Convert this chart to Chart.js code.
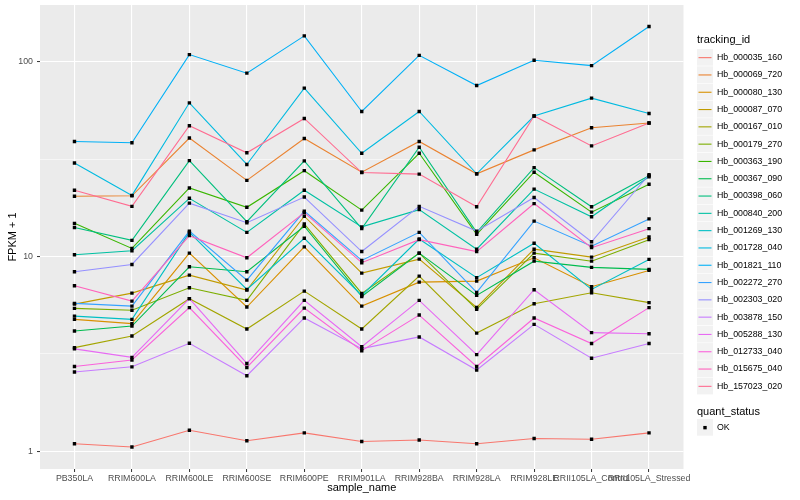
<!DOCTYPE html>
<html>
<head>
<meta charset="utf-8">
<script src="https://cdn.jsdelivr.net/npm/chart.js@4.4.0/dist/chart.umd.min.js"></script>
<style>
  html, body { margin: 0; padding: 0; background: #fff; }
</style>
</head>
<body>
<canvas id="myChart" width="800" height="500"></canvas>
<script>
// categories on the x axis
const sampleNames = ['PB350LA', 'RRIM600LA', 'RRIM600LE', 'RRIM600SE', 'RRIM600PE', 'RRIM901LA',
  'RRIM928BA', 'RRIM928LA', 'RRIM928LE', 'RRII105LA_Control', 'RRII105LA_Stressed'];

// y tick labels (log scale)
const yTickLabels = [1, 10, 100];
const yMinorBreaks = [3.1623, 31.623];

// FPKM + 1 per tracking id
const hb_000035_160 = [1.09, 1.05, 1.28, 1.13, 1.24, 1.12, 1.14, 1.09, 1.16, 1.15, 1.24];
const hb_000069_720 = [20.4, 20.5, 40.6, 24.6, 40.4, 27.1, 39.0, 26.6, 35.3, 45.9, 48.5];
const hb_000080_130 = [4.75, 4.52, 10.4, 5.50, 11.2, 5.56, 7.38, 7.47, 9.85, 6.99, 8.48];
const hb_000087_070 = [5.69, 6.48, 8.02, 6.72, 16.1, 8.21, 9.69, 5.47, 10.9, 9.92, 12.6];
const hb_000167_010 = [3.40, 3.90, 6.07, 4.24, 6.64, 4.24, 7.93, 4.04, 5.72, 6.51, 5.79];
const hb_000179_270 = [5.41, 5.29, 6.91, 5.95, 14.7, 6.46, 10.4, 5.35, 10.4, 9.46, 12.2];
const hb_000363_190 = [14.8, 11.0, 22.5, 17.9, 27.6, 17.3, 33.9, 13.0, 27.1, 16.9, 23.5];
const hb_000367_090 = [4.14, 4.39, 8.85, 8.35, 14.3, 6.23, 10.4, 6.31, 9.46, 8.79, 8.58];
const hb_000398_060 = [14.1, 12.1, 31.1, 15.1, 31.0, 13.9, 36.4, 13.3, 28.6, 18.0, 26.0];
const hb_000840_200 = [10.2, 10.7, 19.9, 13.3, 21.9, 14.2, 17.4, 10.9, 22.2, 16.0, 25.7];
const hb_001269_130 = [4.94, 4.75, 13.3, 6.77, 12.4, 6.31, 12.3, 7.78, 11.7, 6.77, 9.66];
const hb_001728_040 = [30.2, 20.6, 61.6, 29.7, 73.3, 33.9, 55.6, 26.6, 52.7, 65.1, 54.3];
const hb_001821_110 = [39.0, 38.4, 109, 87.5, 136, 55.6, 108, 75.6, 102, 95.7, 152];
const hb_002272_270 = [5.74, 5.56, 13.5, 7.56, 17.1, 9.54, 13.3, 6.54, 15.2, 11.3, 15.6];
const hb_002303_020 = [8.35, 9.10, 18.8, 14.9, 20.2, 10.6, 18.1, 13.5, 20.1, 11.9, 26.3];
const hb_003878_150 = [2.55, 2.71, 3.58, 2.44, 4.83, 3.36, 3.86, 2.61, 4.48, 3.00, 3.57];
const hb_005288_130 = [3.35, 3.03, 6.07, 2.82, 5.95, 3.44, 5.95, 3.13, 6.75, 4.06, 4.01];
const hb_012733_040 = [2.72, 2.94, 5.46, 2.69, 5.43, 3.28, 5.00, 2.72, 4.83, 3.57, 5.46];
const hb_015675_040 = [7.07, 5.90, 12.8, 9.85, 16.8, 9.29, 12.2, 10.6, 18.7, 11.1, 13.9];
const hb_157023_020 = [21.9, 18.1, 47.0, 34.1, 51.2, 27.0, 26.5, 18.0, 52.7, 37.0, 48.5];

const trackingIds = ['Hb_000035_160', 'Hb_000069_720', 'Hb_000080_130', 'Hb_000087_070', 'Hb_000167_010',
  'Hb_000179_270', 'Hb_000363_190', 'Hb_000367_090', 'Hb_000398_060', 'Hb_000840_200', 'Hb_001269_130',
  'Hb_001728_040', 'Hb_001821_110', 'Hb_002272_270', 'Hb_002303_020', 'Hb_003878_150', 'Hb_005288_130',
  'Hb_012733_040', 'Hb_015675_040', 'Hb_157023_020'];
const seriesValues = [hb_000035_160, hb_000069_720, hb_000080_130, hb_000087_070, hb_000167_010,
  hb_000179_270, hb_000363_190, hb_000367_090, hb_000398_060, hb_000840_200, hb_001269_130,
  hb_001728_040, hb_001821_110, hb_002272_270, hb_002303_020, hb_003878_150, hb_005288_130,
  hb_012733_040, hb_015675_040, hb_157023_020];

// ggplot default hue palette for 20 groups
const colors = ['#F8766D', '#EA8331', '#D89000', '#C09B00', '#A3A500', '#7CAE00', '#39B600', '#00BB4E',
  '#00BF7D', '#00C1A3', '#00BFC4', '#00BAE0', '#00B0F6', '#35A2FF', '#9590FF', '#C77CFF', '#E76BF3',
  '#FA62DB', '#FF62BC', '#FF6C91'];

const FONT = '"Liberation Sans", Arial, sans-serif';

datasets = [];
for (k = 0; k < seriesValues.length; k++) {
  const pts = seriesValues[k].map((v, i) => ({ x: i, y: v }));
  // lines: first group drawn first (highest order is drawn first)
  datasets.push({
    label: trackingIds[k],
    data: pts,
    borderColor: colors[k],
    borderWidth: 1.1,
    pointRadius: 0,
    fill: false,
    tension: 0,
    order: 100 - k
  });
  // points on top of every line
  datasets.push({
    label: trackingIds[k] + ' pts',
    data: pts,
    showLine: false,
    pointStyle: 'rect',
    pointRadius: 2.4,
    pointBackgroundColor: '#000',
    pointBorderWidth: 0,
    order: 0
  });
}

const isMajor = (v) => yTickLabels.some(t => Math.abs(t - v) < 1e-6);

const ggPanel = {
  id: 'ggPanel',
  beforeDraw(chart) {
    const c = chart.ctx, a = chart.chartArea;
    c.save();
    c.fillStyle = '#fff';
    c.fillRect(0, 0, chart.width, chart.height);
    c.fillStyle = '#EBEBEB';
    c.fillRect(a.left, a.top, a.right - a.left, a.bottom - a.top);
    c.restore();
  },
  afterDraw(chart) {
    const c = chart.ctx, a = chart.chartArea;
    c.save();
    c.fillStyle = '#000';
    c.textBaseline = 'middle';
    // axis titles
    c.font = '11px ' + FONT;
    c.textAlign = 'center';
    c.fillText('sample_name', (a.left + a.right) / 2, 488);
    c.save();
    c.translate(13, (a.top + a.bottom) / 2);
    c.rotate(-Math.PI / 2);
    c.fillText('FPKM + 1', 0, 0);
    c.restore();

    // legend: tracking_id
    const lx = 697, kw = 16, kh = 17.3;
    c.textAlign = 'left';
    c.fillText('tracking_id', lx, 40);
    let y0 = 49;
    for (k = 0; k < trackingIds.length; k++) {
      const ky = y0 + k * kh;
      c.fillStyle = '#F2F2F2';
      c.fillRect(lx, ky, kw, kh - 0.6);
      c.strokeStyle = colors[k];
      c.lineWidth = 1.1;
      c.beginPath();
      c.moveTo(lx + 1.5, ky + kh / 2);
      c.lineTo(lx + kw - 1.5, ky + kh / 2);
      c.stroke();
      c.fillStyle = '#000';
      c.font = '8.8px ' + FONT;
      c.fillText(trackingIds[k], lx + 20, ky + kh / 2);
    }
    // legend: quant_status
    c.font = '11px ' + FONT;
    c.fillText('quant_status', lx, 412);
    c.fillStyle = '#F2F2F2';
    c.fillRect(lx, 419, kw, kh - 0.6);
    c.fillStyle = '#000';
    c.fillRect(lx + kw / 2 - 1.7, 419 + kh / 2 - 1.7, 3.4, 3.4);
    c.font = '8.8px ' + FONT;
    c.fillText('OK', lx + 20, 419 + kh / 2);
    c.restore();
  }
};

new Chart(document.getElementById('myChart'), {
  type: 'line',
  data: { datasets: datasets },
  options: {
    responsive: false,
    animation: false,
    devicePixelRatio: 1,
    layout: { padding: { left: 0, top: 5, right: 116.5, bottom: 0 } },
    plugins: {
      legend: { display: false },
      tooltip: { enabled: false }
    },
    scales: {
      x: {
        type: 'linear',
        min: -0.6,
        max: 10.6,
        afterBuildTicks: (scale) => {
          scale.ticks = sampleNames.map((s, i) => ({ value: i }));
        },
        afterFit: (scale) => {
          scale.height = 31;
          scale.paddingLeft = 0;
          scale.paddingRight = 0;
        },
        ticks: {
          autoSkip: false,
          maxRotation: 0,
          minRotation: 0,
          padding: 1,
          color: '#4D4D4D',
          font: { family: FONT, size: 8.8 },
          callback: (v) => sampleNames[v]
        },
        grid: {
          color: '#FFFFFF',
          lineWidth: 1.1,
          tickColor: '#333333',
          tickLength: 3,
          tickWidth: 1
        },
        border: { display: false }
      },
      y: {
        type: 'logarithmic',
        min: 0.809,
        max: 196,
        afterBuildTicks: (scale) => {
          scale.ticks = [1, yMinorBreaks[0], 10, yMinorBreaks[1], 100].map(v => ({ value: v }));
        },
        afterFit: (scale) => {
          scale.width = 40;
          scale.paddingTop = 0;
          scale.paddingBottom = 0;
        },
        ticks: {
          padding: 4,
          color: '#4D4D4D',
          font: { family: FONT, size: 8.8 },
          callback: (v) => isMajor(v) ? String(v) : ''
        },
        grid: {
          color: '#FFFFFF',
          lineWidth: (ctx) => isMajor(ctx.tick.value) ? 1.1 : 0.55,
          tickColor: (ctx) => isMajor(ctx.tick.value) ? '#333333' : 'rgba(0,0,0,0)',
          tickLength: 3,
          tickWidth: 1
        },
        border: { display: false }
      }
    }
  },
  plugins: [ggPanel]
});
</script>
</body>
</html>
